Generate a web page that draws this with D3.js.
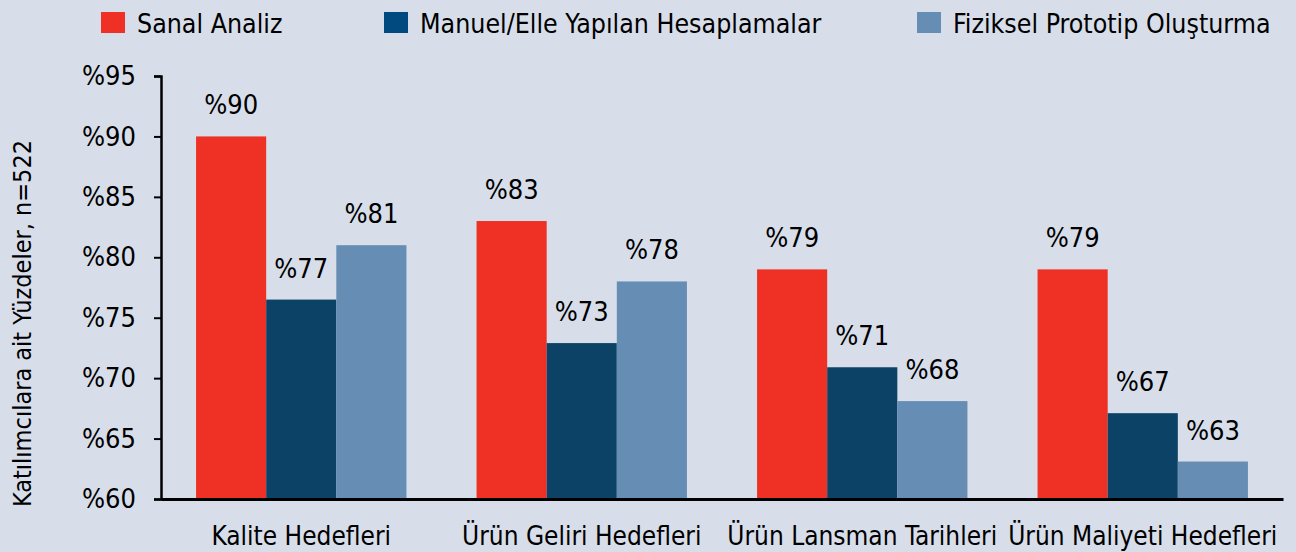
<!DOCTYPE html>
<html lang="tr">
<head>
<meta charset="utf-8">
<title>Chart</title>
<script src="https://d3js.org/d3.v7.min.js"></script>
<style>
  body { margin: 0; background: #d7deea; }
  svg text { font-family: "Liberation Sans Narrow", "DejaVu Sans Condensed", sans-serif; fill: #000; }
</style>
</head>
<body>
<div id="chart"></div>
<script>
// Data
const categories = ["Kalite Hedefleri", "Ürün Geliri Hedefleri", "Ürün Lansman Tarihleri", "Ürün Maliyeti Hedefleri"];
const seriesNames = ["Sanal Analiz", "Manuel/Elle Yapılan Hesaplamalar", "Fiziksel Prototip Oluşturma"];
const sanal = [90, 83, 79, 79];
const manuel = [76.5, 72.9, 70.9, 67.1];
const fiziksel = [81, 78, 68.1, 63.1];
const sanalLabels = ["%90", "%83", "%79", "%79"];
const manuelLabels = ["%77", "%73", "%71", "%67"];
const fizikselLabels = ["%81", "%78", "%68", "%63"];
const yTicks = [60, 65, 70, 75, 80, 85, 90, 95];
const colors = ["#ee3124", "#0c4266", "#668db4"];
const legendColors = ["#ee3124", "#004a80", "#668db4"];

const series = [sanal, manuel, fiziksel];
const labels = [sanalLabels, manuelLabels, fizikselLabels];

const W = 1296, H = 552;
const margin = { top: 76, right: 13, bottom: 53, left: 161 };
const width = W - margin.left - margin.right;
const height = H - margin.top - margin.bottom;

const svg = d3.select("#chart").append("svg")
  .attr("width", W).attr("height", H);

const g = svg.append("g")
  .attr("transform", `translate(${margin.left},${margin.top})`);

// Scales
const x0 = d3.scaleBand().domain(categories).range([0, width])
  .paddingInner(0.25).paddingOuter(0.125);
const x1 = d3.scaleBand().domain(d3.range(3)).range([0, x0.bandwidth()]);
const y = d3.scaleLinear().domain([60, 95]).range([height, 0]);

// Bars
series.forEach((vals, s) => {
  g.selectAll(".bar" + s)
    .data(vals)
    .enter().append("rect")
    .attr("x", (d, i) => x0(categories[i]) + x1(s))
    .attr("y", d => y(d))
    .attr("width", x1.bandwidth())
    .attr("height", d => y(60) - y(d))
    .attr("fill", colors[s]);

  g.selectAll(".lab" + s)
    .data(vals)
    .enter().append("text")
    .attr("x", (d, i) => x0(categories[i]) + x1(s) + x1.bandwidth() / 2)
    .attr("y", d => y(d) - 22)
    .attr("text-anchor", "middle")
    .style("font-size", "27px")
    .text((d, i) => labels[s][i]);
});

// Y axis
const yAxis = g.append("g")
  .call(d3.axisLeft(y).tickValues(yTicks).tickSize(7).tickPadding(18).tickFormat(d => "%" + d));
yAxis.select(".domain").attr("stroke", "#000").attr("stroke-width", 2.5);
yAxis.selectAll(".tick line").attr("stroke", "#000").attr("stroke-width", 2);
yAxis.selectAll(".tick text").style("font-size", "27px");

// X axis
const xAxis = g.append("g")
  .attr("transform", `translate(0,${height})`)
  .call(d3.axisBottom(x0).tickSize(0).tickPadding(28));
xAxis.select(".domain").attr("stroke", "#000").attr("stroke-width", 3);
xAxis.selectAll(".tick text").style("font-size", "26px");

// Y title
svg.append("text")
  .attr("transform", `translate(31,${margin.top + height / 2 + 36}) rotate(-90)`)
  .attr("text-anchor", "middle")
  .style("font-size", "25px")
  .text("Katılımcılara ait Yüzdeler, n=522");

// Legend
const legendX = [101, 384, 917];
const legend = svg.append("g");
seriesNames.forEach((name, i) => {
  legend.append("rect")
    .attr("x", legendX[i]).attr("y", 12)
    .attr("width", 24).attr("height", 21)
    .attr("fill", legendColors[i]);
  legend.append("text")
    .attr("x", legendX[i] + 36).attr("y", 33)
    .style("font-size", "26.5px")
    .text(name);
});
</script>
</body>
</html>
